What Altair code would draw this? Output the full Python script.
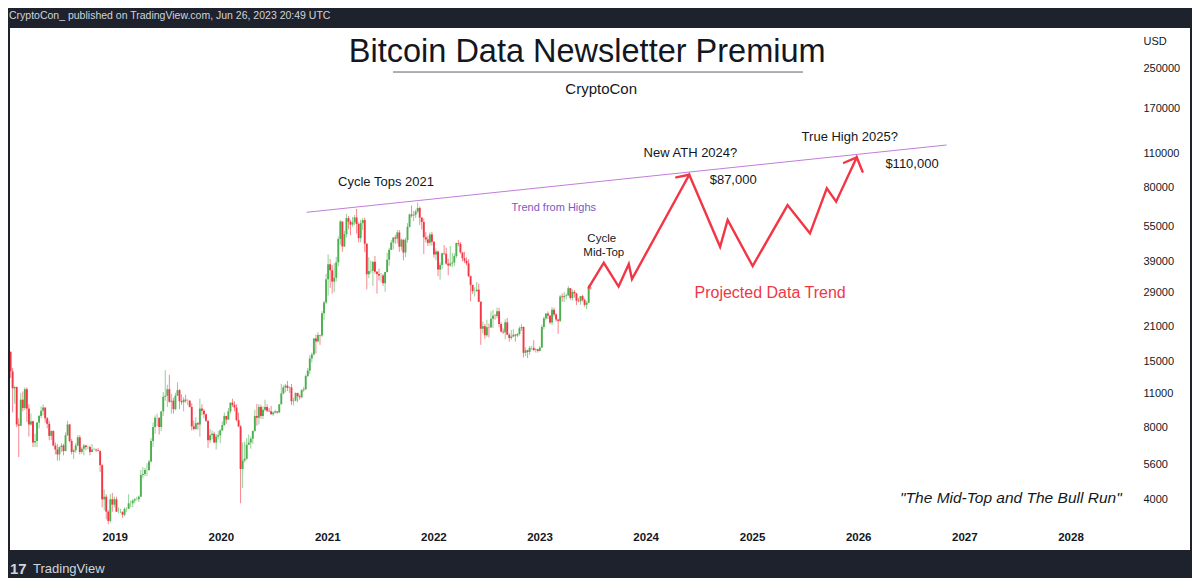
import altair as alt
import pandas as pd
import numpy as np

FONT = "Liberation Sans"
INK = "#131722"
GREEN = "#4caf50"
RED = "#f23645"
PURPLE_LINE = "#c37ddb"
PURPLE_TEXT = "#7e57c2"
FRAME = "#1e222d"

# ---- weekly BTC candles, first week starts 2018-01-08 (open of first week) ----
first_open = 16477
highs = [
    # 2018
    16500, 14100, 11900, 11800, 8700, 11100, 11250, 11700, 11700, 9950, 9100, 8500, 7500,
    8200, 9000, 9750, 9950, 9650, 8800, 8500, 7750, 7750, 6900, 6800, 6650, 6850,
    6800, 7600, 8500, 8250, 7150, 6500, 6850, 7400, 7400, 6600, 6800, 6750, 6700,
    6700, 6800, 6550, 6500, 6550, 6400, 5600, 4400, 4200, 3600, 4200, 4250, 4100,
    # 2019
    4100, 3700, 3650, 3550, 3700, 3700, 4200, 3950, 4000, 4050, 4100, 4150, 5300,
    5450, 5400, 5650, 5850, 7200, 8350, 8950, 9100, 8750, 9300, 11200, 13800, 12000,
    13200, 11000, 10600, 11100, 12300, 11500, 10950, 10650, 10900, 10450, 10350, 10050, 8500,
    8800, 8400, 10500, 9950, 9500, 9100, 8500, 7850, 7750, 7650, 7500, 7700, 7850,
    # 2020
    8450, 9200, 8900, 9600, 10150, 10500, 10250, 9950, 9200, 8150, 6900, 6950, 7200,
    7450, 7300, 7750, 9450, 10000, 9950, 9900, 9750, 10400, 9950, 9600, 9800, 9300,
    9450, 9300, 9950, 12100, 11950, 12100, 12450, 11800, 12100, 10600, 11150, 11100, 10950,
    11500, 11750, 13250, 14100, 15950, 16350, 18800, 19450, 19900, 19400, 24300, 26900, 34800,
    # 2021
    41950, 40100, 37850, 38500, 40950, 49700, 58300, 57500, 52600, 61800, 60600, 58400, 60000,
    61200, 64850, 57000, 58450, 59500, 59600, 46600, 40800, 39500, 39300, 41300, 35750, 36600,
    35100, 34700, 34500, 42600, 44700, 48150, 49400, 50500, 52900, 52950, 48800, 47400, 49200,
    56600, 62000, 67000, 63700, 64300, 69000, 66350, 59900, 59200, 51950, 50000, 51800, 52100,
    # 2022
    47500, 44400, 43500, 38900, 42600, 45800, 44750, 40300, 45400, 42600, 42350, 46900, 48200,
    47200, 42400, 42950, 40800, 40000, 34200, 31300, 30600, 32200, 31700, 26800, 22000, 21500,
    22400, 21600, 24300, 24650, 23650, 25200, 25100, 21850, 20600, 22500, 22800, 19700, 20350,
    20450, 19550, 19700, 21000, 21450, 21000, 17200, 16800, 17400, 17400, 18400, 17050, 16950,
    # 2023
    17400, 21300, 23050, 23900, 24250, 23450, 25250, 25100, 23900, 22600, 28400, 28850, 29200,
    28800, 30950, 30400, 30000, 29800, 29000, 27650, 27450, 28450, 27450, 26800, 31400, 30700,
]
lows = [
    # 2018
    12800, 9200, 10000, 8000, 6000, 8100, 9300, 9400, 8400, 7300, 8100, 6600, 6600,
    6600, 7900, 8700, 8950, 8350, 7900, 7050, 7050, 6650, 6150, 5800, 5800, 6300,
    6100, 6350, 7350, 6900, 6150, 5880, 6250, 6650, 6150, 6200, 6100, 6400, 6450,
    6100, 6350, 6400, 6300, 6350, 5200, 3700, 3600, 3300, 3150, 3200, 3550, 3700,
    # 2019
    3550, 3500, 3500, 3350, 3400, 3550, 3650, 3700, 3700, 3850, 3950, 3900, 4100,
    4900, 5000, 5000, 5250, 5700, 6600, 7500, 8050, 7450, 7700, 8900, 10300, 9700,
    10100, 9100, 9100, 9400, 10800, 9500, 9900, 9300, 10100, 9900, 9650, 7750, 7750,
    7800, 7800, 7300, 8950, 8700, 8400, 6550, 6850, 7100, 6850, 6450, 7100, 6850,
    # 2020
    7700, 8100, 8250, 8550, 9100, 9700, 9300, 8450, 8000, 3850, 4450, 5700, 5850,
    6750, 6500, 6800, 7650, 8100, 8200, 8650, 8650, 9300, 9250, 9250, 9000, 8900,
    9100, 9100, 9150, 9950, 10950, 11150, 11300, 11100, 9900, 9850, 10250, 10150, 10400,
    10550, 11200, 11400, 12900, 13300, 14850, 15900, 16200, 18000, 17600, 19000, 22300, 26050,
    # 2021
    28200, 30400, 28800, 29250, 32300, 37400, 46000, 43000, 45000, 49300, 53300, 50400, 54700,
    55500, 51200, 47000, 47050, 53000, 42900, 30000, 33400, 34900, 31000, 34800, 28800, 32700,
    32100, 31000, 29300, 35200, 37600, 43900, 43950, 46400, 46600, 43000, 43400, 39600, 40800,
    46900, 54200, 59700, 57800, 59400, 62300, 55600, 53200, 42000, 47000, 45500, 45600, 45700,
    # 2022
    40600, 39650, 34000, 32900, 36300, 41700, 38000, 34300, 37200, 37150, 37550, 40450, 45300,
    42150, 39200, 38600, 37700, 33700, 26700, 28700, 28000, 29300, 26600, 17600, 19650, 18650,
    19000, 18900, 20800, 20700, 22400, 22700, 20800, 19800, 19550, 18550, 19350, 18150, 18500,
    19000, 18150, 18900, 19250, 20100, 15600, 15800, 15500, 16000, 16750, 16550, 16350, 16350,
    # 2023
    16550, 17100, 20400, 22300, 22550, 21450, 21350, 23100, 21950, 19550, 21900, 26600, 26550,
    27250, 28150, 27150, 26950, 27700, 25800, 26450, 25900, 26600, 25400, 24800, 26250, 29900,
]
closes = [
    # 2018
    13650, 11600, 11750, 8200, 8100, 10400, 9600, 11500, 9550, 8200, 8450, 6900, 7000,
    8350, 8900, 9350, 9650, 8700, 8250, 7350, 7700, 6700, 6450, 6150, 6600, 6700,
    6350, 7400, 8200, 7000, 6300, 6400, 6700, 7250, 6300, 6500, 6700, 6600, 6600,
    6300, 6450, 6450, 6400, 6350, 5550, 4000, 4100, 3550, 3250, 4000, 3800, 4000,
    # 2019
    3550, 3550, 3550, 3450, 3650, 3650, 3850, 3850, 3950, 4000, 4000, 4100, 5050,
    5100, 5300, 5300, 5750, 7000, 8000, 8750, 8750, 8000, 9300, 10700, 10800, 11500,
    10200, 10300, 9500, 10800, 11400, 10250, 10150, 10400, 10300, 10300, 9700, 8050, 7850,
    8300, 8200, 9550, 9350, 9050, 8500, 7050, 7400, 7500, 6900, 7300, 7400, 7750,
    # 2020
    8150, 8900, 8600, 9300, 10100, 9900, 9650, 8550, 8050, 5350, 5800, 5900, 6750,
    6900, 7150, 7700, 8900, 8750, 9700, 8900, 9450, 9700, 9350, 9300, 9050, 9200,
    9300, 9200, 9950, 11050, 11700, 11900, 11650, 11700, 10250, 10300, 11100, 10750, 10650,
    11400, 11500, 13050, 13750, 15450, 16050, 18700, 18200, 19350, 19250, 23850, 26450, 33000,
    # 2021
    38150, 36000, 32300, 33500, 38850, 48600, 57500, 45250, 50950, 59400, 57350, 55800, 57050,
    59750, 56150, 49000, 56600, 58250, 46450, 34650, 35700, 35800, 39050, 35500, 34700, 34250,
    34250, 31800, 35400, 39850, 43800, 47000, 49300, 48800, 51750, 45150, 48300, 42700, 48200,
    54650, 61500, 60850, 61300, 63250, 65450, 59700, 57200, 49400, 48400, 46850, 50800, 47300,
    # 2022
    41850, 43100, 36250, 37900, 42400, 42200, 38400, 37700, 38450, 38800, 41250, 46800, 46400,
    42750, 40400, 39450, 38450, 34050, 31300, 29450, 29450, 29900, 26600, 20550, 21050, 19300,
    20850, 20800, 22600, 23300, 23200, 24300, 21500, 20000, 19850, 21850, 19400, 18800, 19050,
    19400, 19250, 19550, 20650, 20900, 16300, 16700, 16450, 17100, 17100, 16750, 16850, 16600,
    # 2023
    17150, 20900, 22700, 23750, 23300, 21800, 24650, 23550, 22450, 22150, 28000, 27800, 28150,
    28300, 30300, 27600, 29250, 28850, 26900, 26750, 28100, 27100, 25850, 26350, 30450, 30300,
]

# ---- price-axis and time-axis labels ----
price_ticks = [4000, 5600, 8000, 11000, 15000, 21000, 29000, 39000, 55000, 80000,
               110000, 170000, 250000]
year_ticks = [2019, 2020, 2021, 2022, 2023, 2024, 2025, 2026, 2027, 2028]

# ---- projected path ("Projected Data Trend") ----
proj_dates = ["2023-06-19", "2023-08-10", "2023-09-30", "2023-11-04", "2023-11-15",
              "2024-05-30", "2024-09-13", "2024-10-09", "2025-01-03", "2025-05-03",
              "2025-07-19", "2025-09-15", "2025-10-17", "2025-12-27", "2026-01-16"]
proj_prices = [30500, 38700, 30800, 38250, 33100,
               90000, 45100, 58300, 37500, 67300,
               51300, 79000, 69500, 106400, 92700]
# arrow barbs
barb_from_dates = ["2024-04-15", "2025-11-13"]
barb_from_prices = [87800, 101000]
barb_to_dates = ["2024-05-30", "2025-12-27"]
barb_to_prices = [90000, 106400]

# ---- trend line from highs ----
trend_dates = ["2020-10-22", "2026-11-01"]
trend_prices = [62800, 119800]

# ---- title underline ----
underline_dates = ["2021-08-15", "2025-06-25"]
underline_price = 241200

# ---- text annotations (center, alphabetic baseline) ----
ink_texts = ["Bitcoin Data Newsletter Premium", "CryptoCon", "Cycle Tops 2021", "Cycle",
             "Mid-Top", "New ATH 2024?", "$87,000", "True High 2025?", "$110,000"]
ink_dates = ["2023-06-14", "2023-08-01", "2021-07-22", "2023-08-03",
             "2023-08-10", "2024-06-03", "2024-10-28", "2025-12-03", "2026-07-05"]
ink_prices = [266800, 195400, 81000, 47100, 41400, 107100, 82100, 124400, 95800]
ink_sizes = [32.5, 15, 13, 11.5, 11.5, 13, 13, 13, 13]

purple_text = ["Trend from Highs"]
purple_dates = ["2023-02-19"]
purple_prices = [63800]

red_text = ["Projected Data Trend"]
red_dates = ["2025-03-04"]
red_prices = [27500]

quote_text = ["\"The Mid-Top and The Bull Run\""]
quote_dates = ["2027-06-10"]
quote_prices = [3860]

header_text = "CryptoCon_ published on TradingView.com, Jun 26, 2023 20:49 UTC"
footer_text = "TradingView"

# ---- build tables ----
n = len(closes)
assert len(highs) == n and len(lows) == n
dates = pd.date_range("2018-01-08", periods=n, freq="7D")
opens = [first_open] + closes[:-1]
candles = pd.DataFrame({
    "date": dates.strftime("%Y-%m-%d"),
    "open": opens, "close": closes, "high": highs, "low": lows,
})
candles["high"] = candles[["high", "open", "close"]].max(axis=1)
candles["low"] = candles[["low", "open", "close"]].min(axis=1)
candles["dir"] = np.where(candles["close"] >= candles["open"], "up", "down")

x_scale = alt.Scale(type="utc", domain=[alt.DateTime(year=2018, month=1, date=6, utc=True),
                                         alt.DateTime(year=2029, month=2, date=15, utc=True)])
y_scale = alt.Scale(type="log", domain=[2459, 368000], nice=False)
dir_scale = alt.Scale(domain=["up", "down"], range=[GREEN, RED])

x_axis = alt.Axis(
    values=[alt.DateTime(year=y, month=1, date=1, utc=True) for y in year_ticks],
    format="%Y", orient="bottom", offset=-13, ticks=False, tickSize=0, domain=False,
    grid=False, labelPadding=0, labelBaseline="middle", labelFont=FONT,
    labelFontSize=11.5, labelFontWeight="bold", labelColor=INK, labelFlush=False,
    labelOverlap=False, title=None,
)
y_axis = alt.Axis(
    values=price_ticks, format="d", orient="right", offset=-47, ticks=False, tickSize=0,
    domain=False, grid=False, labelPadding=0, labelAlign="left", labelBaseline="middle",
    labelFont=FONT, labelFontSize=11, labelColor=INK, labelFlush=False, labelOverlap=False,
    title="USD", titleAngle=0, titleX=0, titleY=13, titleAlign="left",
    titleBaseline="middle", titleFont=FONT, titleFontSize=11, titleFontWeight="normal",
    titleColor=INK,
)


def X(field):
    return alt.X(field, scale=x_scale, axis=x_axis)


def Y(field):
    return alt.Y(field, scale=y_scale, axis=y_axis)


wicks = alt.Chart(candles).mark_rule(strokeWidth=1, opacity=0.6, clip=True).encode(
    x=X("date:T"), y=Y("low:Q"), y2="high:Q",
    color=alt.Color("dir:N", scale=dir_scale, legend=None),
)
bodies = alt.Chart(candles).mark_rule(strokeWidth=1.9, clip=True).encode(
    x=X("date:T"), y=Y("open:Q"), y2="close:Q",
    color=alt.Color("dir:N", scale=dir_scale, legend=None),
)

trend_df = pd.DataFrame({"date": [trend_dates[0]], "date2": [trend_dates[1]],
                         "price": [trend_prices[0]], "price2": [trend_prices[1]]})
trend = alt.Chart(trend_df).mark_rule(color=PURPLE_LINE, strokeWidth=1).encode(
    x=X("date:T"), x2="date2:T", y=Y("price:Q"), y2="price2:Q",
)

ul_df = pd.DataFrame({"date": [underline_dates[0]], "date2": [underline_dates[1]],
                      "price": [underline_price]})
underline = alt.Chart(ul_df).mark_rule(color="#5d606b", strokeWidth=1).encode(
    x=X("date:T"), x2="date2:T", y=Y("price:Q"),
)

proj_df = pd.DataFrame({"date": proj_dates, "price": proj_prices,
                        "i": list(range(len(proj_dates)))})
proj = alt.Chart(proj_df).mark_line(color=RED, strokeWidth=2.4, strokeJoin="miter",
                                    strokeCap="round").encode(
    x=X("date:T"), y=Y("price:Q"), order="i:Q",
)
barb_df = pd.DataFrame({"date": barb_from_dates, "price": barb_from_prices,
                        "date2": barb_to_dates, "price2": barb_to_prices})
barbs = alt.Chart(barb_df).mark_rule(color=RED, strokeWidth=2.4, strokeCap="round").encode(
    x=X("date:T"), x2="date2:T", y=Y("price:Q"), y2="price2:Q",
)

ink_df = pd.DataFrame({"date": ink_dates, "price": ink_prices, "text": ink_texts,
                       "size": ink_sizes})
ink = alt.Chart(ink_df).mark_text(align="center", baseline="alphabetic", font=FONT,
                                  color=INK).encode(
    x=X("date:T"), y=Y("price:Q"), text="text:N",
    size=alt.Size("size:Q", scale=None, legend=None),
)
purple = alt.Chart(pd.DataFrame({"date": purple_dates, "price": purple_prices,
                                 "text": purple_text})).mark_text(
    align="center", baseline="alphabetic", font=FONT, fontSize=11, color=PURPLE_TEXT).encode(
    x=X("date:T"), y=Y("price:Q"), text="text:N")
red = alt.Chart(pd.DataFrame({"date": red_dates, "price": red_prices,
                              "text": red_text})).mark_text(
    align="center", baseline="alphabetic", font=FONT, fontSize=16, color=RED).encode(
    x=X("date:T"), y=Y("price:Q"), text="text:N")
quote = alt.Chart(pd.DataFrame({"date": quote_dates, "price": quote_prices,
                                "text": quote_text})).mark_text(
    align="center", baseline="alphabetic", font=FONT, fontSize=15.5, fontStyle="italic",
    color=INK).encode(
    x=X("date:T"), y=Y("price:Q"), text="text:N")

header = alt.Chart(pd.DataFrame({"t": [header_text]})).mark_text(
    align="left", baseline="alphabetic", font=FONT, fontSize=10.5, color="#d1d4dc").encode(
    x=alt.value(-1), y=alt.value(-8.7), text="t:N")
footer = alt.Chart(pd.DataFrame({"t": [footer_text]})).mark_text(
    align="left", baseline="middle", font=FONT, fontSize=13, color="#d1d4dc").encode(
    x=alt.value(23), y=alt.value(541), text="t:N")
logo = alt.Chart(pd.DataFrame({"t": ["17"]})).mark_text(
    align="left", baseline="middle", font=FONT, fontSize=15, fontWeight=900,
    color="#d1d4dc").encode(x=alt.value(0), y=alt.value(541), text="t:N")

chart = alt.layer(
    wicks, bodies, trend, underline, proj, barbs, ink, purple, red, quote,
    header, footer, logo,
).properties(
    width=1180, height=522,
    autosize=alt.AutoSizeParams(type="none"),
    padding={"left": 2, "top": 20, "right": 2, "bottom": 28},
    background=FRAME,
).configure_view(fill="white", stroke=None)

chart.save("out.html", embed_options={"renderer": "svg", "actions": False})
